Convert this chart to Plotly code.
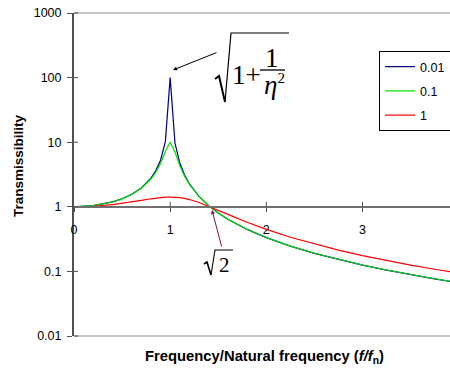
import plotly.graph_objects as go

# ---- data ----
freq_ratio = [0, 0.2, 0.4, 0.5, 0.6, 0.7, 0.8, 0.85, 0.9, 0.95, 1.0, 1.05, 1.1, 1.15,
              1.2, 1.3, 1.4, 1.5, 1.6, 1.8, 2.0, 2.25, 2.5, 2.75, 3.0, 3.25, 3.5, 3.75, 4.0]
T_eta_001 = [1.0, 1.042, 1.190, 1.333, 1.562, 1.960, 2.777, 3.602, 5.256, 10.20, 100.0, 9.71,
             4.757, 3.099, 2.272, 1.449, 1.042, 0.800, 0.641, 0.4465, 0.3334, 0.2462, 0.1905,
             0.1524, 0.1250, 0.1046, 0.0889, 0.0766, 0.0667]
T_eta_01 = [1.0, 1.041, 1.188, 1.328, 1.552, 1.934, 2.690, 3.407, 4.681, 7.196, 10.05, 7.018,
            4.321, 2.976, 2.227, 1.441, 1.041, 0.8014, 0.6429, 0.4482, 0.3348, 0.2466, 0.1911,
            0.1530, 0.1256, 0.1050, 0.0893, 0.0769, 0.0670]
T_eta_1 = [1.0, 1.020, 1.083, 1.131, 1.191, 1.260, 1.331, 1.363, 1.389, 1.408, 1.414, 1.407,
           1.384, 1.346, 1.295, 1.164, 1.020, 0.8835, 0.7632, 0.5765, 0.4472, 0.3380, 0.2646,
           0.2130, 0.1754, 0.1471, 0.1252, 0.1080, 0.0941]
series_names = ["0.01", "0.1", "1"]
series_colors = ["#000080", "#00E000", "#FF0000"]
y_tickvals = [0.01, 0.1, 1, 10, 100, 1000]
y_ticktext = ["0.01", "0.1", "1", "10", "100", "1000"]
x_tickvals = [0, 1, 2, 3]
x_ticktext = ["0", "1", "2", "3"]

# ---- layout geometry (pixels) ----
W, H = 450, 372
L, R, T, B = 74, 0, 13, 36
PW, PH = W - L - R, H - T - B


def px(x):
    return (x - L) / PW


def py(y):
    return (H - B - y) / PH


fig = go.Figure()
for name, vals, col in zip(series_names, [T_eta_001, T_eta_01, T_eta_1], series_colors):
    fig.add_trace(go.Scatter(x=freq_ratio, y=vals, mode="lines", name=name,
                             legendgroup=name,
                             line=dict(color=col, width=1.2)))

axis_font = dict(family="Liberation Sans, Arial, sans-serif", size=12.5, color="#000")

fig.update_layout(
    width=W, height=H,
    margin=dict(l=L, r=R, t=T, b=B, autoexpand=False),
    paper_bgcolor="white", plot_bgcolor="white",
    showlegend=True,
    legend=dict(x=px(379), y=py(51), xanchor="left", yanchor="top",
                bgcolor="white", bordercolor="black", borderwidth=1,
                font=axis_font, tracegroupgap=5, itemwidth=30,
                entrywidth=42, entrywidthmode="pixels"),
    xaxis=dict(range=[0, 3.91], anchor="free", position=0.4,
               tickvals=x_tickvals, ticktext=x_ticktext,
               showgrid=False, zeroline=False,
               showline=True, linecolor="#707070", linewidth=1.5,
               ticks="outside", ticklen=4, tickcolor="#505050", tickwidth=1,
               ticklabelstandoff=7, tickfont=axis_font),
    yaxis=dict(type="log", range=[-2, 3],
               tickvals=y_tickvals, ticktext=y_ticktext,
               showgrid=False, zeroline=False,
               showline=True, linecolor="#505050", linewidth=2,
               ticks="outside", ticklen=5, tickcolor="#505050", tickwidth=1,
               ticklabelstandoff=3, tickfont=axis_font),
)

shapes = []
# top and bottom frame lines
shapes.append(dict(type="line", xref="paper", yref="paper", x0=0, x1=1, y0=1, y1=1,
                   line=dict(color="#8c8c8c", width=1)))
shapes.append(dict(type="line", xref="paper", yref="paper", x0=0, x1=1, y0=0, y1=0,
                   line=dict(color="#c4c4c4", width=2)))
# inner halves of crossing tick marks
for tv in x_tickvals[1:]:
    shapes.append(dict(type="line", xref="x", yref="paper", x0=tv, x1=tv,
                       y0=0.4, y1=0.4 + 5 / PH, line=dict(color="#505050", width=1)))
for k in range(6):
    yy = k / 5
    shapes.append(dict(type="line", xref="paper", yref="paper", x0=0, x1=4 / PW,
                       y0=yy, y1=yy, line=dict(color="#505050", width=1)))


def path(points):
    return "M " + " L ".join(f"{px(a):.5f},{py(b):.5f}" for a, b in points)


# radical for sqrt(1 + 1/eta^2)
shapes.append(dict(type="path", xref="paper", yref="paper",
                   path=path([(215, 79), (219, 76), (225, 102)]),
                   line=dict(color="black", width=2)))
shapes.append(dict(type="path", xref="paper", yref="paper",
                   path=path([(225, 102), (231, 33), (289, 33)]),
                   line=dict(color="black", width=1.2)))
# fraction bar
shapes.append(dict(type="line", xref="paper", yref="paper",
                   x0=px(260), x1=px(285), y0=py(70), y1=py(70),
                   line=dict(color="black", width=1.3)))
# radical for sqrt(2)
shapes.append(dict(type="path", xref="paper", yref="paper",
                   path=path([(204, 264), (207, 262), (211, 275)]),
                   line=dict(color="black", width=1.6)))
shapes.append(dict(type="path", xref="paper", yref="paper",
                   path=path([(211, 275), (215, 250), (233, 250)]),
                   line=dict(color="black", width=1.1)))
fig.update_layout(shapes=shapes)

serif = "Liberation Serif, Times New Roman, serif"
ann = []
ann.append(dict(text="1+", xref="paper", yref="paper", x=px(246), y=py(75),
                xanchor="center", yanchor="middle", showarrow=False,
                font=dict(family=serif, size=27, color="black")))
ann.append(dict(text="1", xref="paper", yref="paper", x=px(272), y=py(58),
                xanchor="center", yanchor="middle", showarrow=False,
                font=dict(family=serif, size=27, color="black")))
ann.append(dict(text="<i>η</i><sup><span style='font-size:15px'>2</span></sup>",
                xref="paper", yref="paper", x=px(274), y=py(85),
                xanchor="center", yanchor="middle", showarrow=False,
                font=dict(family=serif, size=27, color="black")))
ann.append(dict(text="2", xref="paper", yref="paper", x=px(224), y=py(265),
                xanchor="center", yanchor="middle", showarrow=False,
                font=dict(family=serif, size=21, color="black")))
# arrows
ann.append(dict(text="", xref="paper", yref="paper", x=px(173), y=py(70),
                ax=218 - 173, ay=52 - 70, axref="pixel", ayref="pixel",
                showarrow=True, arrowhead=2, arrowsize=0.8, arrowwidth=1,
                arrowcolor="black", startstandoff=0, standoff=0))
ann.append(dict(text="", xref="paper", yref="paper", x=px(212), y=py(210),
                ax=222 - 212, ay=248 - 210, axref="pixel", ayref="pixel",
                showarrow=True, arrowhead=2, arrowsize=0.8, arrowwidth=1,
                arrowcolor="#7a1050", startstandoff=0, standoff=0))
# axis titles
title_font = dict(family="Liberation Sans, Arial, sans-serif", size=13.5, color="black")
ann.append(dict(text="<b>Transmissibility</b>", xref="paper", yref="paper",
                x=px(18), y=py(166), xanchor="center", yanchor="middle",
                textangle=-90, showarrow=False, font=title_font))
ann.append(dict(text="<b>Frequency/Natural frequency (<i>f/f</i><sub>n</sub>)</b>",
                xref="paper", yref="paper", x=px(264), y=py(357),
                xanchor="center", yanchor="middle", showarrow=False,
                font=dict(family="Liberation Sans, Arial, sans-serif", size=14.8,
                          color="black")))
fig.update_layout(annotations=ann)

fig.write_html("out.html",
               config={"displayModeBar": False},
               post_script="document.body.style.margin='0px';"
                           "document.body.style.overflow='hidden';")
